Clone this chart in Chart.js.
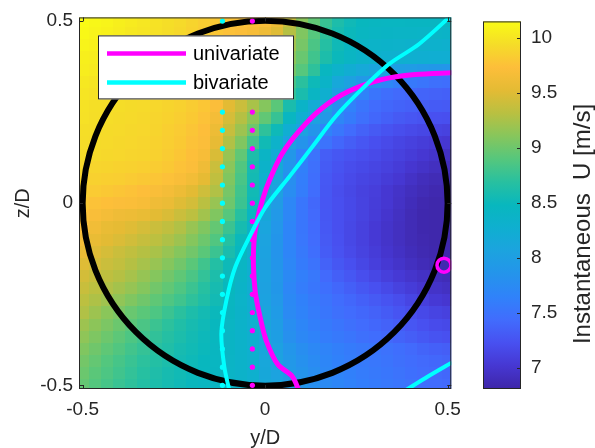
<!DOCTYPE html>
<html>
<head>
<meta charset="utf-8">
<script src="https://cdn.jsdelivr.net/npm/chart.js@4.4.1/dist/chart.umd.min.js"></script>
<style>
  html, body { margin: 0; padding: 0; background: #fff; }
  #wrap { position: relative; width: 595px; height: 448px; overflow: hidden; }
  #main { position: absolute; left: 0; top: 0; }
  #cbar { position: absolute; left: 470px; top: 0; }
</style>
</head>
<body>
<div id="wrap">
  <canvas id="main" width="470" height="448"></canvas>
  <canvas id="cbar" width="125" height="448"></canvas>
</div>
<script>
const FONT = "'Liberation Sans', Arial, Helvetica, sans-serif";
const INK = "#262626";

// axes
const axisMin = -0.51, axisMax = 0.51;
const axisTicks = [-0.5, 0, 0.5];
const cbMin = 6.81, cbMax = 10.15;
const cbTicks = [7, 7.5, 8, 8.5, 9, 9.5, 10];

// heat map cell centres (y/D across, z/D rows from top)
const gridY = [-0.5, -0.4667, -0.4333, -0.4, -0.3667, -0.3333, -0.3, -0.2667, -0.2333, -0.2, -0.1667, -0.1333, -0.1, -0.0667, -0.0333, 0,
  0.0333, 0.0667, 0.1, 0.1333, 0.1667, 0.2, 0.2333, 0.2667, 0.3, 0.3333, 0.3667, 0.4, 0.4333, 0.4667, 0.5];
const gridZ = [0.5, 0.4667, 0.4333, 0.4, 0.3667, 0.3333, 0.3, 0.2667, 0.2333, 0.2, 0.1667, 0.1333, 0.1, 0.0667, 0.0333, 0,
  -0.0333, -0.0667, -0.1, -0.1333, -0.1667, -0.2, -0.2333, -0.2667, -0.3, -0.3333, -0.3667, -0.4, -0.4333, -0.4667, -0.5];

// instantaneous U [m/s], one row per z/D
const u00 = [10.15,10.12,10.1,10.07,10.04,10.01,9.98,9.95,9.92,9.88,9.84,9.8,9.77,9.75,9.73,9.7,9.6,9.38,9.12,8.95,8.76,8.62,8.53,8.48,8.46,8.45,8.45,8.44,8.44,8.44,8.44];
const u01 = [10.13,10.1,10.08,10.05,10.02,10.0,9.97,9.94,9.91,9.87,9.83,9.79,9.75,9.72,9.68,9.62,9.5,9.3,9.08,8.9,8.72,8.58,8.5,8.45,8.42,8.41,8.4,8.4,8.39,8.39,8.38];
const u02 = [10.1,10.08,10.06,10.03,10.0,9.98,9.95,9.93,9.9,9.86,9.82,9.77,9.72,9.66,9.6,9.52,9.4,9.22,9.04,8.85,8.67,8.53,8.45,8.4,8.37,8.35,8.34,8.33,8.32,8.32,8.31];
const u03 = [10.07,10.05,10.03,10.0,9.98,9.96,9.94,9.91,9.88,9.84,9.8,9.74,9.67,9.58,9.5,9.4,9.28,9.13,8.98,8.8,8.62,8.5,8.42,8.36,8.32,8.3,8.28,8.27,8.26,8.25,8.25];
const u04 = [10.05,10.03,10.01,9.99,9.97,9.95,9.93,9.9,9.87,9.83,9.78,9.71,9.62,9.52,9.42,9.3,9.17,9.03,8.9,8.72,8.46,8.34,8.24,8.16,8.1,8.05,8.0,7.96,7.93,7.9,7.88];
const u05 = [10.02,10.0,9.98,9.97,9.95,9.93,9.91,9.88,9.85,9.81,9.76,9.68,9.57,9.45,9.33,9.2,9.06,8.83,8.7,8.52,8.38,8.15,8.04,7.92,7.8,7.7,7.62,7.56,7.52,7.48,7.46];
const u06 = [10.0,9.98,9.96,9.95,9.93,9.92,9.9,9.87,9.84,9.8,9.75,9.66,9.53,9.4,9.26,9.12,8.98,8.74,8.6,8.42,8.28,8.02,7.85,7.66,7.52,7.46,7.42,7.4,7.38,7.36,7.35];
const u07 = [9.98,9.96,9.95,9.94,9.93,9.92,9.9,9.88,9.86,9.83,9.79,9.72,9.52,9.4,9.25,9.1,8.92,8.6,8.38,8.2,8.05,7.8,7.65,7.52,7.44,7.4,7.37,7.35,7.33,7.31,7.3];
const u08 = [9.97,9.95,9.94,9.93,9.92,9.91,9.89,9.87,9.84,9.81,9.76,9.66,9.45,9.3,9.12,8.95,8.76,8.45,8.24,8.05,7.92,7.7,7.58,7.48,7.4,7.35,7.3,7.27,7.25,7.23,7.22];
const u09 = [9.95,9.94,9.93,9.92,9.91,9.9,9.88,9.85,9.82,9.78,9.73,9.6,9.38,9.2,9.0,8.72,8.52,8.25,8.05,7.87,7.66,7.54,7.44,7.36,7.3,7.25,7.21,7.18,7.15,7.13,7.11];
const u10 = [9.94,9.93,9.92,9.91,9.9,9.89,9.87,9.84,9.81,9.76,9.72,9.55,9.28,9.08,8.82,8.54,8.34,8.05,7.85,7.7,7.5,7.4,7.33,7.27,7.22,7.18,7.14,7.1,7.07,7.04,7.02];
const u11 = [9.93,9.92,9.91,9.9,9.89,9.88,9.86,9.83,9.79,9.74,9.68,9.47,9.18,8.95,8.62,8.4,8.22,7.9,7.65,7.5,7.33,7.28,7.24,7.21,7.18,7.14,7.1,7.06,7.02,6.98,6.95];
const u12 = [9.9,9.89,9.88,9.87,9.86,9.85,9.83,9.8,9.76,9.72,9.62,9.4,9.12,8.88,8.58,8.35,8.18,7.85,7.63,7.48,7.31,7.25,7.2,7.17,7.14,7.1,7.06,7.01,6.97,6.93,6.9];
const u13 = [9.87,9.86,9.85,9.84,9.82,9.8,9.78,9.75,9.7,9.64,9.54,9.35,9.08,8.84,8.56,8.3,8.12,7.8,7.61,7.46,7.29,7.23,7.18,7.14,7.11,7.06,7.02,6.96,6.91,6.88,6.86];
const u14 = [9.84,9.82,9.8,9.78,9.76,9.73,9.7,9.66,9.6,9.52,9.42,9.28,9.04,8.8,8.54,8.25,8.04,7.77,7.6,7.45,7.28,7.21,7.16,7.11,7.08,7.02,6.97,6.92,6.88,6.85,6.84];
const u15 = [9.8,9.76,9.74,9.72,9.71,9.68,9.62,9.58,9.5,9.44,9.32,9.18,9.0,8.78,8.52,8.2,7.97,7.7,7.53,7.41,7.27,7.22,7.17,7.12,7.07,7.02,6.96,6.9,6.85,6.83,6.83];
const u16 = [9.76,9.7,9.66,9.62,9.6,9.57,9.52,9.47,9.4,9.33,9.22,9.08,8.9,8.68,8.45,8.14,7.92,7.7,7.53,7.42,7.28,7.22,7.17,7.12,7.06,7.0,6.94,6.88,6.84,6.83,6.83];
const u17 = [9.72,9.63,9.57,9.54,9.5,9.45,9.4,9.35,9.28,9.18,9.08,8.96,8.78,8.58,8.38,8.09,7.89,7.68,7.53,7.43,7.29,7.22,7.16,7.1,7.04,6.98,6.93,6.88,6.84,6.83,6.83];
const u18 = [9.66,9.57,9.52,9.48,9.43,9.38,9.33,9.27,9.2,9.1,9.0,8.88,8.68,8.5,8.32,8.06,7.87,7.68,7.54,7.44,7.3,7.23,7.16,7.1,7.04,6.98,6.93,6.88,6.85,6.83,6.83];
const u19 = [9.58,9.5,9.45,9.4,9.35,9.3,9.25,9.18,9.1,9.02,8.92,8.78,8.6,8.47,8.3,8.05,7.86,7.68,7.56,7.46,7.32,7.24,7.18,7.12,7.06,7.0,6.95,6.9,6.86,6.84,6.83];
const u20 = [9.5,9.45,9.4,9.36,9.3,9.24,9.18,9.1,9.02,8.92,8.8,8.66,8.52,8.42,8.27,8.04,7.87,7.7,7.58,7.5,7.36,7.28,7.22,7.15,7.09,7.03,6.98,6.93,6.89,6.86,6.85];
const u21 = [9.44,9.39,9.34,9.3,9.24,9.17,9.1,9.02,8.94,8.85,8.74,8.62,8.5,8.4,8.27,8.05,7.89,7.73,7.62,7.55,7.42,7.34,7.28,7.21,7.15,7.09,7.04,6.99,6.95,6.91,6.89];
const u22 = [9.39,9.33,9.28,9.23,9.17,9.1,9.02,8.95,8.87,8.78,8.68,8.58,8.48,8.38,8.26,8.04,7.9,7.7,7.6,7.53,7.47,7.4,7.34,7.28,7.23,7.17,7.11,7.06,7.01,6.97,6.94];
const u23 = [9.33,9.27,9.21,9.15,9.08,9.01,8.94,8.87,8.8,8.72,8.64,8.55,8.46,8.37,8.26,8.05,7.92,7.73,7.64,7.57,7.51,7.45,7.4,7.35,7.3,7.25,7.2,7.14,7.09,7.04,7.01];
const u24 = [9.28,9.2,9.12,9.06,8.98,8.92,8.86,8.78,8.7,8.62,8.56,8.5,8.44,8.36,8.28,8.1,7.95,7.74,7.66,7.59,7.53,7.48,7.44,7.4,7.36,7.31,7.26,7.21,7.17,7.13,7.1];
const u25 = [9.2,9.13,9.06,8.99,8.92,8.85,8.78,8.71,8.64,8.58,8.53,8.48,8.42,8.35,8.28,8.1,7.98,7.78,7.69,7.62,7.57,7.52,7.48,7.44,7.4,7.36,7.32,7.27,7.23,7.19,7.17];
const u26 = [9.14,9.07,9.0,8.93,8.86,8.8,8.73,8.67,8.61,8.56,8.51,8.47,8.41,8.35,8.28,8.11,8.0,7.81,7.72,7.66,7.6,7.56,7.52,7.48,7.45,7.41,7.37,7.33,7.29,7.25,7.23];
const u27 = [9.08,9.01,8.94,8.88,8.81,8.75,8.69,8.64,8.58,8.54,8.5,8.46,8.41,8.35,8.29,8.12,8.03,7.88,7.79,7.72,7.67,7.62,7.58,7.55,7.52,7.49,7.46,7.42,7.38,7.35,7.33];
const u28 = [9.03,8.96,8.89,8.83,8.77,8.71,8.66,8.61,8.56,8.52,8.48,8.45,8.4,8.35,8.3,8.13,8.05,7.91,7.82,7.75,7.69,7.64,7.6,7.57,7.54,7.51,7.48,7.45,7.42,7.4,7.38];
const u29 = [8.99,8.92,8.86,8.8,8.74,8.68,8.63,8.58,8.54,8.5,8.47,8.44,8.39,8.35,8.3,8.14,8.06,7.93,7.85,7.78,7.72,7.67,7.63,7.59,7.56,7.53,7.5,7.47,7.44,7.42,7.4];
const u30 = [8.96,8.89,8.83,8.77,8.72,8.66,8.61,8.57,8.53,8.49,8.46,8.43,8.39,8.35,8.3,8.15,8.08,7.95,7.87,7.8,7.74,7.69,7.65,7.61,7.58,7.55,7.52,7.49,7.46,7.44,7.42];
const speedRows = [u00,u01,u02,u03,u04,u05,u06,u07,u08,u09,u10,u11,u12,u13,u14,u15,u16,u17,u18,u19,u20,u21,u22,u23,u24,u25,u26,u27,u28,u29,u30];

// rotor disc
const rotorCenter = [0, 0];
const rotorRadius = 0.5;

// wake centre tracks
const uniY = [0.093, 0.074, 0.035, 0.003, -0.014, -0.027, -0.032, -0.030, -0.022, -0.008, 0.011, 0.046, 0.093, 0.155, 0.229, 0.319, 0.411, 0.515];
const uniZ = [-0.515, -0.475, -0.443, -0.377, -0.312, -0.244, -0.170, -0.097, -0.048, 0.007, 0.061, 0.135, 0.198, 0.260, 0.307, 0.339, 0.353, 0.358];
const biY = [-0.098, -0.112, -0.120, -0.106, -0.082, -0.038, 0.000, 0.068, 0.131, 0.193, 0.267, 0.341, 0.422, 0.515];
const biZ = [-0.514, -0.448, -0.356, -0.266, -0.176, -0.083, -0.012, 0.075, 0.157, 0.238, 0.315, 0.383, 0.437, 0.520];
const bi2Y = [0.384, 0.447, 0.512];
const bi2Z = [-0.514, -0.475, -0.437];

// dotted reference columns
const dotZ = [-0.5, -0.45, -0.4, -0.35, -0.3, -0.25, -0.2, -0.15, -0.1, -0.05, 0, 0.05, 0.1, 0.15, 0.2, 0.25, 0.3, 0.35, 0.4, 0.45, 0.5];
const uniDotY = -0.035;
const biDotY = -0.117;

// single marker
const markerY = 0.490, markerZ = -0.170;

const legendLabels = ["univariate", "bivariate"];

const parulaStops = [
  [0.000, 62, 38, 168], [0.063, 70, 55, 210], [0.125, 72, 80, 240], [0.188, 65, 108, 253],
  [0.250, 48, 130, 250], [0.313, 36, 148, 235], [0.375, 28, 163, 223], [0.438, 15, 175, 208],
  [0.500, 8, 183, 190], [0.563, 40, 192, 160], [0.625, 85, 199, 125], [0.688, 135, 198, 92],
  [0.750, 185, 192, 65], [0.813, 228, 187, 52], [0.875, 253, 190, 58], [0.938, 245, 221, 40],
  [1.000, 249, 251, 21]
];

function parula(v) {
  const t = Math.max(0, Math.min(1, (v - cbMin) / (cbMax - cbMin)));
  for (let k = 1; k < parulaStops.length; k++) {
    if (t <= parulaStops[k][0]) {
      const a = parulaStops[k - 1], b = parulaStops[k];
      const f = (t - a[0]) / (b[0] - a[0]);
      const c = [1, 2, 3].map(n => Math.round(a[n] + f * (b[n] - a[n])));
      return `rgb(${c[0]},${c[1]},${c[2]})`;
    }
  }
  return "rgb(249,251,21)";
}

function pts(xs, zs) {
  return xs.map((v, i) => ({ x: v, y: zs[i] }));
}

const fieldPlugin = {
  id: "field",
  beforeDatasetsDraw(chart) {
    const { ctx, chartArea: a, scales: { x, y } } = chart;
    const hy = (gridY[1] - gridY[0]) / 2;
    const hz = (gridZ[0] - gridZ[1]) / 2;
    ctx.save();
    ctx.beginPath();
    ctx.rect(a.left, a.top, a.right - a.left, a.bottom - a.top);
    ctx.clip();
    speedRows.forEach((row, i) => {
      const y0 = Math.round(y.getPixelForValue(gridZ[i] + hz));
      const y1 = Math.round(y.getPixelForValue(gridZ[i] - hz));
      row.forEach((u, j) => {
        const x0 = Math.round(x.getPixelForValue(gridY[j] - hy));
        const x1 = Math.round(x.getPixelForValue(gridY[j] + hy));
        ctx.fillStyle = parula(u);
        ctx.fillRect(x0, y0, x1 - x0, y1 - y0);
      });
    });
    const cx = x.getPixelForValue(rotorCenter[0]);
    const cy = y.getPixelForValue(rotorCenter[1]);
    const r = x.getPixelForValue(rotorCenter[0] + rotorRadius) - cx;
    ctx.beginPath();
    ctx.arc(cx, cy, r, 0, Math.PI * 2);
    ctx.lineWidth = 6;
    ctx.strokeStyle = "#000";
    ctx.stroke();
    ctx.restore();
  },
  afterDatasetsDraw(chart) {
    const { ctx, chartArea: a, scales: { x, y } } = chart;
    ctx.save();
    // axes box and inner ticks
    ctx.strokeStyle = INK;
    ctx.lineWidth = 1;
    ctx.strokeRect(a.left + 0.5, a.top + 0.5, a.right - a.left - 1, a.bottom - a.top - 1);
    ctx.beginPath();
    axisTicks.forEach(v => {
      const px = Math.round(x.getPixelForValue(v)) + 0.5;
      ctx.moveTo(px, a.bottom); ctx.lineTo(px, a.bottom - 4);
      ctx.moveTo(px, a.top); ctx.lineTo(px, a.top + 4);
      const py = Math.round(y.getPixelForValue(v)) + 0.5;
      ctx.moveTo(a.left, py); ctx.lineTo(a.left + 4, py);
      ctx.moveTo(a.right, py); ctx.lineTo(a.right - 4, py);
    });
    ctx.stroke();

    // legend box
    const lx = a.left + 19, ly = a.top + 18, lw = 196, lh = 64;
    ctx.fillStyle = "#fff";
    ctx.fillRect(lx, ly, lw, lh);
    ctx.strokeStyle = INK;
    ctx.strokeRect(lx + 0.5, ly + 0.5, lw - 1, lh - 1);
    ctx.font = `20px ${FONT}`;
    ctx.textBaseline = "middle";
    ctx.textAlign = "left";
    legendLabels.forEach((name, k) => {
      const d = chart.data.datasets.find(s => s.label === name);
      const yy = ly + 18 + k * 29;
      ctx.beginPath();
      ctx.moveTo(lx + 9, yy);
      ctx.lineTo(lx + 88, yy);
      ctx.strokeStyle = d.borderColor;
      ctx.lineWidth = 4.5;
      ctx.stroke();
      ctx.fillStyle = "#000";
      ctx.fillText(name, lx + 95, yy + 1);
    });
    ctx.restore();
  }
};

new Chart(document.getElementById("main"), {
  type: "scatter",
  data: {
    datasets: [
      {
        label: "marker", data: [{ x: markerY, y: markerZ }], showLine: false,
        pointRadius: 7, pointBorderWidth: 3.5, pointBorderColor: "#ff00ff",
        pointBackgroundColor: "rgba(0,0,0,0)", clip: 0
      },
      {
        label: "bivariate", data: pts(biY, biZ), showLine: true,
        borderColor: "#00ffff", borderWidth: 4, pointRadius: 0, tension: 0.3, clip: 0
      },
      {
        label: "bivariate (lower)", data: pts(bi2Y, bi2Z), showLine: true,
        borderColor: "#00ffff", borderWidth: 4, pointRadius: 0, tension: 0.3, clip: 0
      },
      {
        label: "univariate", data: pts(uniY, uniZ), showLine: true,
        borderColor: "#ff00ff", borderWidth: 5, pointRadius: 0, tension: 0.3, clip: 0
      },
      {
        label: "univariate dots", data: dotZ.map(z => ({ x: uniDotY, y: z })), showLine: false,
        pointRadius: 2.6, pointBorderWidth: 0, pointBackgroundColor: "#ff00ff", clip: 0
      },
      {
        label: "bivariate dots", data: dotZ.map(z => ({ x: biDotY, y: z })), showLine: false,
        pointRadius: 2.6, pointBorderWidth: 0, pointBackgroundColor: "#00ffff", clip: 0
      }
    ]
  },
  options: {
    responsive: false,
    animation: false,
    events: [],
    layout: { padding: { left: 0, top: 15, right: 17, bottom: 0 } },
    plugins: { legend: { display: false }, tooltip: { enabled: false } },
    scales: {
      x: {
        type: "linear", min: axisMin, max: axisMax,
        afterBuildTicks: s => { s.ticks = axisTicks.map(v => ({ value: v })); },
        afterFit: s => { s.height = 59; },
        grid: { display: false, drawTicks: false }, border: { display: false },
        ticks: { font: { family: FONT, size: 19 }, color: INK, padding: 9, maxRotation: 0, callback: v => String(v) },
        title: { display: true, text: "y/D", font: { family: FONT, size: 20 }, color: INK, padding: { top: 0, bottom: -2 } }
      },
      y: {
        type: "linear", min: axisMin, max: axisMax,
        afterBuildTicks: s => { s.ticks = axisTicks.map(v => ({ value: v })); },
        afterFit: s => { s.width = 79; },
        grid: { display: false, drawTicks: false }, border: { display: false },
        ticks: { font: { family: FONT, size: 19 }, color: INK, padding: 6, callback: v => String(v) },
        title: { display: true, text: "z/D", font: { family: FONT, size: 20 }, color: INK, padding: { top: 11, bottom: 0 } }
      }
    }
  },
  plugins: [fieldPlugin]
});

const colorbarPlugin = {
  id: "colorbar",
  beforeDatasetsDraw(chart) {
    const { ctx, chartArea: a, scales: { y } } = chart;
    ctx.save();
    const g = ctx.createLinearGradient(0, y.getPixelForValue(cbMin), 0, y.getPixelForValue(cbMax));
    parulaStops.forEach(s => g.addColorStop(s[0], `rgb(${s[1]},${s[2]},${s[3]})`));
    ctx.fillStyle = g;
    ctx.fillRect(a.left, a.top, a.right - a.left, a.bottom - a.top);
    ctx.strokeStyle = INK;
    ctx.lineWidth = 1;
    ctx.strokeRect(a.left + 0.5, a.top + 0.5, a.right - a.left - 1, a.bottom - a.top - 1);
    ctx.beginPath();
    cbTicks.forEach(v => {
      const py = Math.round(y.getPixelForValue(v)) + 0.5;
      ctx.moveTo(a.right, py); ctx.lineTo(a.right - 4, py);
    });
    ctx.stroke();
    ctx.translate(113, 224);
    ctx.rotate(-Math.PI / 2);
    ctx.font = `24px ${FONT}`;
    ctx.fillStyle = INK;
    ctx.textAlign = "center";
    ctx.textBaseline = "middle";
    ctx.fillText("Instantaneous  U [m/s]", 0, 0);
    ctx.restore();
  }
};

new Chart(document.getElementById("cbar"), {
  type: "scatter",
  data: { datasets: [] },
  options: {
    responsive: false,
    animation: false,
    events: [],
    layout: { padding: { left: 13, top: 15, right: 0, bottom: 59 } },
    plugins: { legend: { display: false }, tooltip: { enabled: false } },
    scales: {
      x: { display: false },
      y: {
        type: "linear", position: "right", min: cbMin, max: cbMax,
        afterBuildTicks: s => { s.ticks = cbTicks.map(v => ({ value: v })); },
        afterFit: s => { s.width = 74; },
        grid: { display: false, drawTicks: false }, border: { display: false },
        ticks: { font: { family: FONT, size: 19 }, color: INK, padding: 10, callback: v => String(v) }
      }
    }
  },
  plugins: [colorbarPlugin]
});
</script>
</body>
</html>
